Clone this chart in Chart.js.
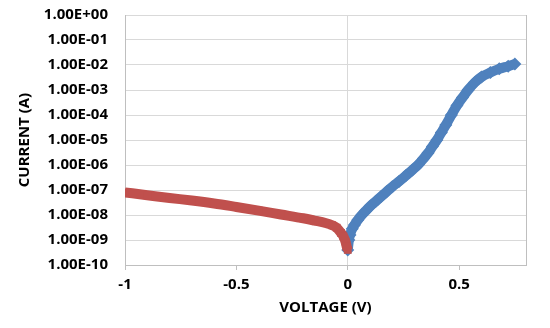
<!DOCTYPE html>
<html>
<head>
<meta charset="utf-8">
<script src="https://cdn.jsdelivr.net/npm/chart.js"></script>
<style>
  body { margin: 0; background: #fff; }
  canvas { display: block; }
</style>
</head>
<body>
<canvas id="myChart" width="550" height="328"></canvas>
<script>
// Reverse sweep (red squares)
var revVoltage = [-1.0, -0.9, -0.8, -0.7, -0.6, -0.5, -0.4, -0.3, -0.2, -0.15, -0.1, -0.07, -0.05, -0.03, -0.02, -0.01, -0.005, 0.0];
var revCurrent = [8.0e-8, 6.2e-8, 4.8e-8, 3.8e-8, 2.9e-8, 2.1e-8, 1.5e-8, 1.05e-8, 7.4e-9, 6.0e-9, 4.8e-9, 3.9e-9, 3.1e-9, 1.9e-9, 1.4e-9, 8.5e-10, 5.5e-10, 4.0e-10];

// Forward sweep (blue diamonds)
var fwdVoltage = [0.0, 0.005, 0.01, 0.02, 0.03, 0.045, 0.063, 0.08, 0.1, 0.125, 0.15, 0.174, 0.2, 0.23, 0.26, 0.29, 0.317, 0.34, 0.36, 0.38, 0.4, 0.42, 0.44, 0.465, 0.49, 0.515, 0.54, 0.57, 0.6, 0.64, 0.68, 0.72, 0.75];
var fwdCurrent = [4.0e-10, 1.0e-9, 1.6e-9, 2.8e-9, 4.0e-9, 6.3e-9, 1.0e-8, 1.45e-8, 2.2e-8, 3.5e-8, 5.5e-8, 8.5e-8, 1.35e-7, 2.2e-7, 3.7e-7, 6.3e-7, 1.05e-6, 1.8e-6, 3.0e-6, 5.5e-6, 1.0e-5, 2.0e-5, 4.0e-5, 1.0e-4, 2.4e-4, 5.0e-4, 1.0e-3, 2.0e-3, 3.3e-3, 5.0e-3, 7.0e-3, 9.0e-3, 1.1e-2];

// Tick labels
var xTicks = [-1, -0.5, 0, 0.5];
var yTicks = [1e-10, 1e-9, 1e-8, 1e-7, 1e-6, 1e-5, 1e-4, 1e-3, 1e-2, 1e-1, 1e0];

function toPoints(xs, ys) {
  return xs.map(function (x, i) { return { x: x, y: ys[i] }; });
}

// Excel style: 1.00E-07
function sciLabel(v) {
  var parts = v.toExponential(2).toUpperCase().split('E');
  var exp = parseInt(parts[1], 10);
  var sign = exp < 0 ? '-' : '+';
  var digits = String(Math.abs(exp));
  if (digits.length < 2) digits = '0' + digits;
  return parts[0] + 'E' + sign + digits;
}

var boxPlugin = {
  id: 'plotBox',
  beforeDatasetsDraw: function (chart) {
    var a = chart.chartArea, c = chart.ctx;
    c.save();
    c.strokeStyle = '#bfbfbf';
    c.lineWidth = 1;
    c.beginPath();
    c.moveTo(Math.round(a.right) + 0.5, a.top);
    c.lineTo(Math.round(a.right) + 0.5, a.bottom);
    c.stroke();
    c.restore();
  }
};

var labelFont = { family: '"Open Sans", "DejaVu Sans", sans-serif', size: 15, weight: 'bold' };

var ctx = document.getElementById('myChart').getContext('2d');
var myChart = new Chart(ctx, {
  type: 'scatter',
  data: {
    datasets: [{
      label: 'Reverse',
      data: toPoints(revVoltage, revCurrent),
      showLine: true,
      borderColor: '#c0504d',
      backgroundColor: '#c0504d',
      borderWidth: 10,
      pointStyle: 'rect',
      pointRadius: 5.5,
      pointBorderWidth: 0,
      cubicInterpolationMode: 'monotone'
    }, {
      label: 'Forward',
      data: toPoints(fwdVoltage, fwdCurrent),
      showLine: true,
      borderColor: '#4f81bd',
      backgroundColor: '#4f81bd',
      borderWidth: 10,
      pointStyle: 'rectRot',
      pointRadius: 6.5,
      pointBorderWidth: 0,
      cubicInterpolationMode: 'monotone'
    }]
  },
  options: {
    responsive: false,
    animation: false,
    events: [],
    layout: { padding: { left: 0, right: 24, top: 15, bottom: 0 } },
    plugins: { legend: { display: false }, tooltip: { enabled: false } },
    scales: {
      x: {
        type: 'linear',
        min: -1,
        max: 0.8,
        afterBuildTicks: function (scale) {
          scale.ticks = xTicks.map(function (v) { return { value: v }; });
        },
        afterFit: function (scale) {
          scale.height = 63;
          scale.paddingLeft = 0;
          scale.paddingRight = 0;
        },
        grid: {
          color: function (c) { return c.tick && c.tick.value === 0 ? '#d9d9d9' : 'rgba(0,0,0,0)'; },
          tickColor: '#bfbfbf',
          tickLength: 5
        },
        border: { color: '#bfbfbf' },
        ticks: {
          color: '#000',
          font: labelFont,
          padding: 6,
          maxRotation: 0,
          callback: function (v) { return String(v); }
        },
        title: {
          display: true,
          text: 'VOLTAGE (V)',
          color: '#000',
          font: labelFont,
          padding: { top: 0, bottom: 11 }
        }
      },
      y: {
        type: 'logarithmic',
        min: 1e-10,
        max: 1,
        afterBuildTicks: function (scale) {
          scale.ticks = yTicks.map(function (v) { return { value: v }; });
        },
        afterFit: function (scale) {
          scale.width = 125;
          scale.paddingTop = 0;
          scale.paddingBottom = 0;
        },
        grid: { color: '#d9d9d9', drawTicks: false },
        border: { color: '#bfbfbf' },
        ticks: {
          color: '#000',
          font: labelFont,
          padding: 17,
          callback: function (v) { return sciLabel(v); }
        },
        title: {
          display: true,
          text: 'CURRENT (A)',
          color: '#000',
          font: labelFont,
          padding: { top: 16, bottom: 0 }
        }
      }
    }
  },
  plugins: [boxPlugin]
});
</script>
</body>
</html>
